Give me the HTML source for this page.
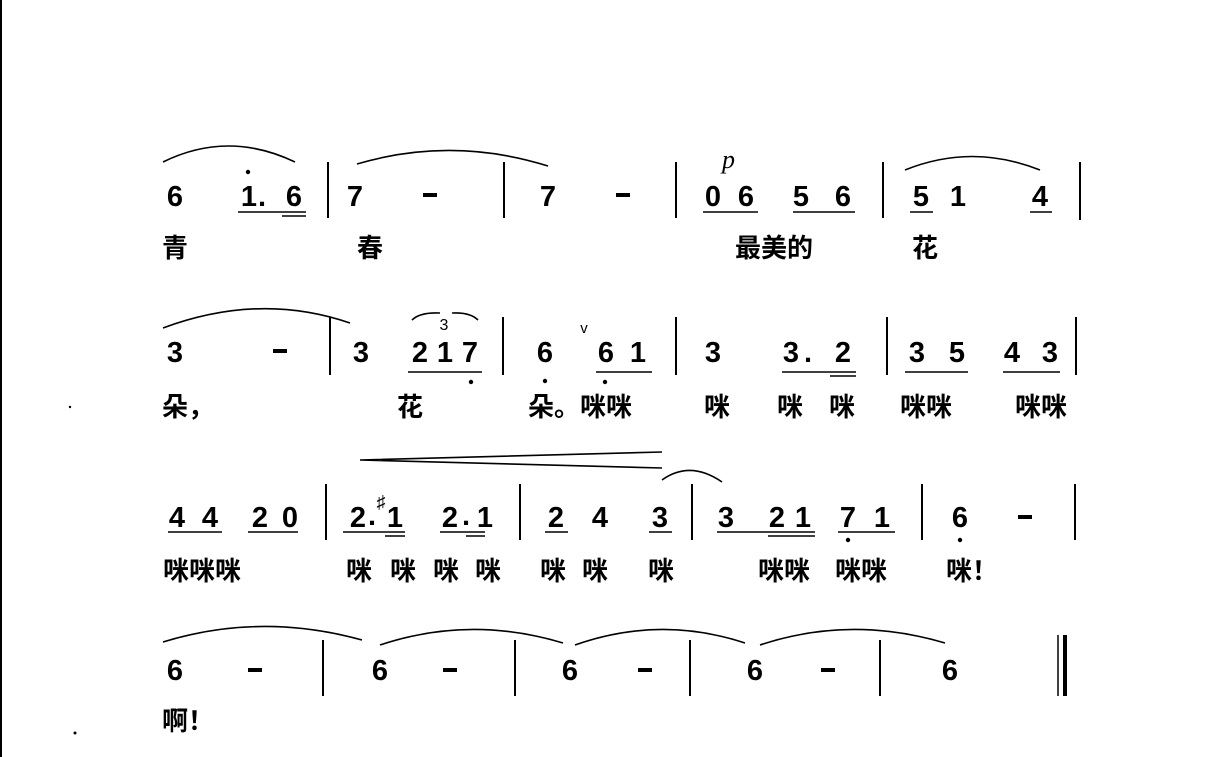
<!DOCTYPE html>
<html><head><meta charset="utf-8"><style>
html,body{margin:0;padding:0;background:#fff;}
svg{display:block}
.n{font-family:"Liberation Sans",sans-serif;font-weight:bold;font-size:29px;text-anchor:middle;fill:#000}
.l{font-family:"Liberation Sans","Noto Sans CJK SC",sans-serif;font-size:26px;font-weight:bold;fill:#000}
</style></head><body>
<svg width="1226" height="757" xmlns="http://www.w3.org/2000/svg">
<line x1="1" y1="0" x2="1" y2="757" stroke="#000" stroke-width="2"/>
<circle cx="70" cy="407" r="1.2"/><circle cx="75" cy="733" r="1.5"/>
<g stroke="#000" fill="none" stroke-width="1.6">
<path d="M163 162 Q228 130 295 162"/>
<path d="M357 164 Q452 136 548 166"/>
<path d="M905 170 Q972 143 1040 170"/>
<path d="M163 328 Q260 292 350 323"/>
<path d="M412 320 Q420 312 440 313"/><path d="M452 313 Q470 312 478 320"/>
<path d="M662 480 Q690 460 722 482"/>
<path d="M163 642 Q260 612 362 640"/>
<path d="M380 645 Q470 615 563 643"/>
<path d="M575 645 Q660 615 745 643"/>
<path d="M760 645 Q850 615 945 643"/>
<path d="M360 460 L662 452 M360 460 L662 468"/>
</g>
<g stroke="#000" stroke-width="2">
<line x1="328" y1="162" x2="328" y2="218"/><line x1="504" y1="162" x2="504" y2="218"/>
<line x1="676" y1="162" x2="676" y2="218"/><line x1="883" y1="162" x2="883" y2="218"/>
<line x1="1080" y1="162" x2="1080" y2="220"/>
<line x1="330" y1="317" x2="330" y2="375"/><line x1="503" y1="317" x2="503" y2="375"/>
<line x1="676" y1="317" x2="676" y2="375"/><line x1="887" y1="317" x2="887" y2="375"/>
<line x1="1076" y1="317" x2="1076" y2="375"/>
<line x1="326" y1="484" x2="326" y2="540"/><line x1="520" y1="484" x2="520" y2="540"/>
<line x1="692" y1="484" x2="692" y2="540"/><line x1="922" y1="484" x2="922" y2="540"/>
<line x1="1075" y1="484" x2="1075" y2="540"/>
<line x1="323" y1="640" x2="323" y2="696"/><line x1="515" y1="640" x2="515" y2="696"/>
<line x1="690" y1="640" x2="690" y2="696"/><line x1="880" y1="640" x2="880" y2="696"/>
<line x1="1058" y1="635" x2="1058" y2="696" stroke-width="1.5"/>
<line x1="1065" y1="635" x2="1065" y2="696" stroke-width="4"/>
</g>
<g stroke="#000" stroke-width="1.5">
<line x1="238" y1="212" x2="306" y2="212"/><line x1="282" y1="216" x2="306" y2="216"/>
<line x1="703" y1="212" x2="758" y2="212"/><line x1="793" y1="212" x2="855" y2="212"/>
<line x1="910" y1="212" x2="933" y2="212"/><line x1="1030" y1="212" x2="1052" y2="212"/>
<line x1="408" y1="372" x2="482" y2="372"/>
<line x1="596" y1="372" x2="652" y2="372"/>
<line x1="782" y1="372" x2="856" y2="372"/><line x1="830" y1="376" x2="856" y2="376"/>
<line x1="905" y1="372" x2="968" y2="372"/><line x1="1003" y1="372" x2="1060" y2="372"/>
<line x1="168" y1="532" x2="222" y2="532"/><line x1="248" y1="532" x2="298" y2="532"/>
<line x1="343" y1="532" x2="405" y2="532"/><line x1="385" y1="536" x2="405" y2="536"/>
<line x1="440" y1="532" x2="485" y2="532"/><line x1="466" y1="536" x2="485" y2="536"/>
<line x1="545" y1="532" x2="568" y2="532"/><line x1="649" y1="532" x2="672" y2="532"/>
<line x1="717" y1="532" x2="815" y2="532"/><line x1="768" y1="536" x2="815" y2="536"/>
<line x1="838" y1="532" x2="895" y2="532"/>
</g>
<g>
<circle cx="248" cy="172" r="2.2"/>
<circle cx="471" cy="382" r="2.2"/><circle cx="545" cy="381" r="2.2"/><circle cx="605" cy="382" r="2.2"/>
<circle cx="848" cy="540" r="2.2"/><circle cx="960" cy="540" r="2.2"/>
<!-- dashes -->
<rect x="423" y="193" width="14" height="4"/><rect x="616" y="193" width="14" height="4"/>
<rect x="273" y="349" width="14" height="4"/>
<rect x="1018" y="515" width="14" height="4"/>
<rect x="248" y="668" width="14" height="4"/><rect x="443" y="668" width="14" height="4"/>
<rect x="638" y="668" width="14" height="4"/><rect x="821" y="668" width="14" height="4"/>
</g>
<text class="n" x="175" y="206">6</text>
<text class="n" x="249" y="206">1</text><text class="n" x="262" y="206">.</text>
<text class="n" x="294" y="206">6</text>
<text class="n" x="355" y="206">7</text>
<text class="n" x="548" y="206">7</text>
<text x="722" y="168" style="font-family:'Liberation Serif',serif;font-style:italic;font-size:26px">p</text>
<text class="n" x="713" y="206">0</text><text class="n" x="746" y="206">6</text>
<text class="n" x="801" y="206">5</text><text class="n" x="843" y="206">6</text>
<text class="n" x="921" y="206">5</text><text class="n" x="958" y="206">1</text>
<text class="n" x="1040" y="206">4</text>
<text class="l" x="162" y="257">青</text><text class="l" x="357" y="257">春</text>
<text class="l" x="735" y="257">最美的</text><text class="l" x="912" y="257">花</text>
<text class="n" x="175" y="362">3</text>
<text class="n" x="361" y="362">3</text>
<text x="444" y="330" style="font-family:'Liberation Sans',sans-serif;font-size:16px;text-anchor:middle">3</text>
<text class="n" x="420" y="362">2</text><text class="n" x="445" y="362">1</text><text class="n" x="470" y="362">7</text>
<text class="n" x="545" y="362">6</text>
<text x="584" y="333" style="font-family:'Liberation Sans',sans-serif;font-size:15px;text-anchor:middle">v</text>
<text class="n" x="606" y="362">6</text><text class="n" x="638" y="362">1</text>
<text class="n" x="713" y="362">3</text>
<text class="n" x="791" y="362">3</text><text class="n" x="808" y="362">.</text><text class="n" x="843" y="362">2</text>
<text class="n" x="917" y="362">3</text><text class="n" x="957" y="362">5</text>
<text class="n" x="1012" y="362">4</text><text class="n" x="1050" y="362">3</text>
<text class="l" x="162" y="416">朵，</text><text class="l" x="397" y="416">花</text>
<text class="l" x="528" y="416">朵。咪咪</text>
<text class="l" x="704" y="416">咪</text><text class="l" x="777" y="416">咪</text><text class="l" x="829" y="416">咪</text>
<text class="l" x="900" y="416">咪咪</text><text class="l" x="1015" y="416">咪咪</text>
<text class="n" x="177" y="527">4</text><text class="n" x="210" y="527">4</text>
<text class="n" x="260" y="527">2</text><text class="n" x="290" y="527">0</text>
<text class="n" x="358" y="527">2</text><text class="n" x="372" y="525">.</text>
<text x="381" y="508" style="font-family:'Liberation Serif',serif;font-size:18px;text-anchor:middle">♯</text>
<text class="n" x="395" y="527">1</text>
<text class="n" x="450" y="527">2</text><text class="n" x="466" y="525">.</text><text class="n" x="485" y="527">1</text>
<text class="n" x="556" y="527">2</text><text class="n" x="600" y="527">4</text><text class="n" x="660" y="527">3</text>
<text class="n" x="726" y="527">3</text><text class="n" x="777" y="527">2</text><text class="n" x="803" y="527">1</text>
<text class="n" x="848" y="527">7</text><text class="n" x="882" y="527">1</text>
<text class="n" x="960" y="527">6</text>
<text class="l" x="163" y="580">咪咪咪</text>
<text class="l" x="346" y="580">咪</text><text class="l" x="390" y="580">咪</text><text class="l" x="433" y="580">咪</text><text class="l" x="475" y="580">咪</text>
<text class="l" x="540" y="580">咪</text><text class="l" x="582" y="580">咪</text><text class="l" x="648" y="580">咪</text>
<text class="l" x="758" y="580">咪咪</text><text class="l" x="835" y="580">咪咪</text>
<text class="l" x="946" y="580">咪！</text>
<text class="n" x="175" y="680">6</text>
<text class="n" x="380" y="680">6</text>
<text class="n" x="570" y="680">6</text>
<text class="n" x="755" y="680">6</text>
<text class="n" x="950" y="680">6</text>
<text class="l" x="162" y="730">啊！</text>
</svg>
</body></html>
